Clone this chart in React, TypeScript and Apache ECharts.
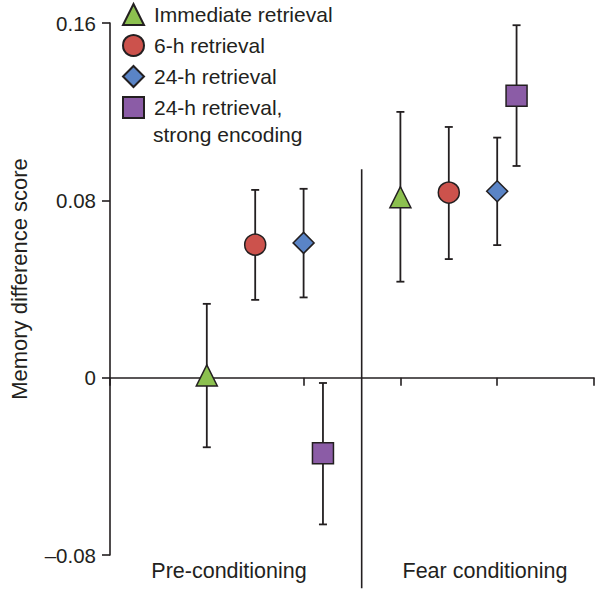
import React, { useEffect, useRef } from "react";
import * as echarts from "echarts";

// ---- data ----
const groupLabels = ["Pre-conditioning", "Fear conditioning"];
const seriesNames = [
  "Immediate retrieval",
  "6-h retrieval",
  "24-h retrieval",
  "24-h retrieval, strong encoding",
];
const symbols = ["triangle", "circle", "diamond", "rect"];
const colors = ["#8cc04f", "#cc524c", "#5a84c6", "#8b5ca6"];

// x positions (pre-conditioning, fear conditioning)
const xImmediate = [1, 3];
const x6h = [1.5, 3.5];
const x24h = [2, 4];
const xStrong = [2.2, 4.2];

const immediateMean = [0.001, 0.0814];
const immediateLow = [-0.0314, 0.0433];
const immediateHigh = [0.0333, 0.1199];

const sixHMean = [0.06, 0.0835];
const sixHLow = [0.0351, 0.0535];
const sixHHigh = [0.0847, 0.1131];

const day24Mean = [0.0608, 0.0841];
const day24Low = [0.0362, 0.0598];
const day24High = [0.0852, 0.1083];

const strongMean = [-0.0341, 0.1272];
const strongLow = [-0.0662, 0.0955];
const strongHigh = [-0.0024, 0.159];

const yTicks = [-0.08, 0, 0.08, 0.16];
const yTickLabels = ["\u20130.08", "0", "0.08", "0.16"];

const dividerX = 2.6;
const dividerTop = 0.094;
const dividerBottom = -0.095;

const INK = "#231f20";
const FONT = "'Liberation Sans', Arial, Helvetica, sans-serif";

const xs = [xImmediate, x6h, x24h, xStrong];
const means = [immediateMean, sixHMean, day24Mean, strongMean];
const lows = [immediateLow, sixHLow, day24Low, strongLow];
const highs = [immediateHigh, sixHHigh, day24High, strongHigh];

export default function App() {
  const ref = useRef<HTMLDivElement>(null);

  useEffect(() => {
    document.body.style.margin = "0";
    if (!ref.current) return;
    const chart = echarts.init(ref.current, undefined, { renderer: "svg" });

    const errData: number[][] = [];
    xs.forEach((xArr, s) => {
      xArr.forEach((x, i) => errData.push([x, lows[s][i], highs[s][i]]));
    });

    const errorSeries: any = {
      type: "custom",
      name: "errors",
      data: errData,
      encode: { x: 0, y: [1, 2] },
      z: 1,
      silent: true,
      renderItem: (_params: any, api: any) => {
        const x = api.value(0);
        const top = api.coord([x, api.value(2)]);
        const bot = api.coord([x, api.value(1)]);
        const cap = 4;
        const style = { stroke: INK, lineWidth: 1.8 };
        return {
          type: "group",
          children: [
            { type: "line", shape: { x1: top[0], y1: top[1], x2: bot[0], y2: bot[1] }, style },
            { type: "line", shape: { x1: top[0] - cap, y1: top[1], x2: top[0] + cap, y2: top[1] }, style },
            { type: "line", shape: { x1: bot[0] - cap, y1: bot[1], x2: bot[0] + cap, y2: bot[1] }, style },
          ],
        };
      },
    };

    const dividerSeries: any = {
      type: "custom",
      name: "divider",
      data: [[dividerX, dividerBottom, dividerTop]],
      encode: { x: 0, y: [1, 2] },
      clip: false,
      z: 1,
      silent: true,
      renderItem: (_params: any, api: any) => {
        const x = api.value(0);
        const top = api.coord([x, api.value(2)]);
        const bot = api.coord([x, api.value(1)]);
        return {
          type: "line",
          shape: { x1: top[0], y1: top[1], x2: bot[0], y2: bot[1] },
          style: { stroke: INK, lineWidth: 1.6 },
        };
      },
    };

    const scatterSeries = seriesNames.map((name, s) => ({
      type: "scatter",
      name,
      symbol: symbols[s],
      symbolSize: 21,
      z: 3,
      data: xs[s].map((x, i) => [x, means[s][i]]),
      itemStyle: { color: colors[s], borderColor: INK, borderWidth: 1.5, opacity: 1 },
    }));

    chart.setOption({
      animation: false,
      grid: { left: 103, right: 6, top: 23, bottom: 39, containLabel: false },
      legend: {
        orient: "vertical",
        left: 117,
        top: -2,
        itemWidth: 21,
        itemHeight: 21,
        itemGap: 8,
        selectedMode: false,
        data: seriesNames.map((name, s) => ({ name, icon: symbols[s] })),
        formatter: (name: string) =>
          name === seriesNames[3] ? "24-h retrieval," : name,
        textStyle: {
          fontSize: 21,
          fontFamily: FONT,
          color: INK,
          lineHeight: 21,
          padding: [0, 0, 0, 5],
        },
      },
      xAxis: {
        type: "value",
        min: 0,
        max: 5,
        interval: 1,
        axisLine: { onZero: true, lineStyle: { color: INK, width: 1.6 } },
        axisTick: { show: true, length: 8, lineStyle: { color: INK, width: 1.6 } },
        axisLabel: { show: false },
        splitLine: { show: false },
      },
      yAxis: {
        type: "value",
        min: yTicks[0],
        max: yTicks[yTicks.length - 1],
        interval: 0.08,
        name: "Memory difference score",
        nameLocation: "middle",
        nameGap: 80,
        nameTextStyle: { fontSize: 22, fontFamily: FONT, color: INK, padding: [0, 0, 0, 20] },
        axisLine: { show: true, lineStyle: { color: INK, width: 1.6 } },
        axisTick: { show: true, length: 8, lineStyle: { color: INK, width: 1.6 } },
        axisLabel: {
          fontSize: 20.5,
          fontFamily: FONT,
          color: INK,
          margin: 14,
          formatter: (v: number) => {
            let best = 0;
            yTicks.forEach((t, i) => {
              if (Math.abs(t - v) < Math.abs(yTicks[best] - v)) best = i;
            });
            return yTickLabels[best];
          },
        },
        splitLine: { show: false },
      },
      graphic: [
        {
          type: "text",
          x: 153,
          y: 134,
          style: {
            text: "strong encoding",
            fontSize: 21,
            fontFamily: FONT,
            fill: INK,
            verticalAlign: "middle",
          },
        },
        {
          type: "text",
          x: 229,
          y: 571,
          style: {
            text: groupLabels[0],
            fontSize: 21.5,
            fontFamily: FONT,
            fill: INK,
            align: "center",
            verticalAlign: "middle",
          },
        },
        {
          type: "text",
          x: 485,
          y: 571,
          style: {
            text: groupLabels[1],
            fontSize: 21.5,
            fontFamily: FONT,
            fill: INK,
            align: "center",
            verticalAlign: "middle",
          },
        },
      ],
      series: [dividerSeries, errorSeries, ...scatterSeries],
    });

    return () => chart.dispose();
  }, []);

  return <div ref={ref} style={{ width: 600, height: 594 }} />;
}
